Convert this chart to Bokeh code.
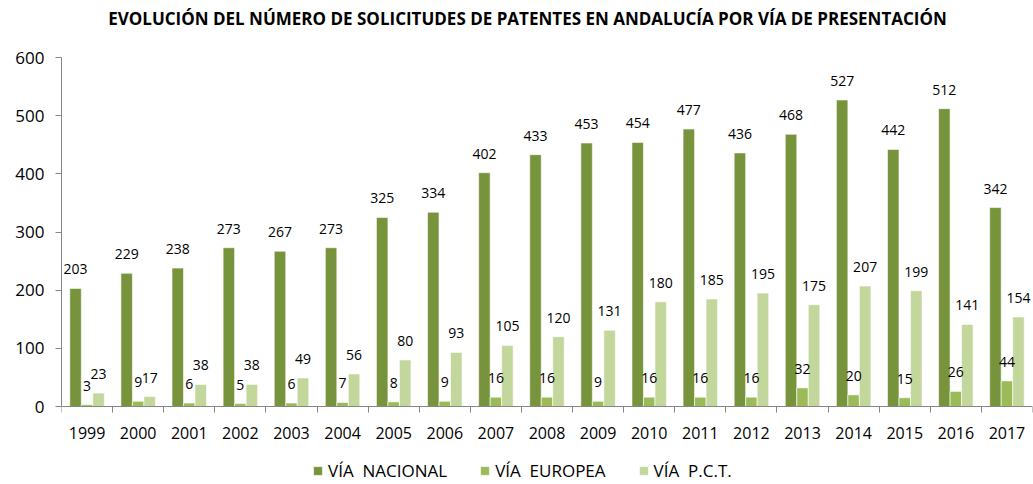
from bokeh.plotting import figure
from bokeh.models import ColumnDataSource, Range1d, FixedTicker, Legend, LegendItem, Label
from bokeh.transform import dodge
from bokeh.core.properties import value
from bokeh.embed import file_html
from bokeh.resources import INLINE

years = ["1999", "2000", "2001", "2002", "2003", "2004", "2005", "2006", "2007", "2008",
         "2009", "2010", "2011", "2012", "2013", "2014", "2015", "2016", "2017"]
nacional = [203, 229, 238, 273, 267, 273, 325, 334, 402, 433, 453, 454, 477, 436, 468, 527, 442, 512, 342]
europea = [3, 9, 6, 5, 6, 7, 8, 9, 16, 16, 9, 16, 16, 16, 32, 20, 15, 26, 44]
pct = [23, 17, 38, 38, 49, 56, 80, 93, 105, 120, 131, 180, 185, 195, 175, 207, 199, 141, 154]
series_names = ["VÍA  NACIONAL", "VÍA  EUROPEA", "VÍA  P.C.T."]
y_ticks = [0, 100, 200, 300, 400, 500, 600]
title_text = "EVOLUCIÓN DEL NÚMERO DE SOLICITUDES DE PATENTES EN ANDALUCÍA POR VÍA DE PRESENTACIÓN"

colors = ["#77933C", "#9BBB59", "#C3D69B"]
FONT = "Open Sans"

W, H = 1033, 484
LEFT, RIGHT = 61, 1032          # plot area x extent (px)
Y600, Y0 = 57, 406              # pixel rows of the 600 and 0 values
px_per_unit = (Y0 - Y600) / 600.0
y_top = 600 + Y600 / px_per_unit
y_bottom = -(H - Y0) / px_per_unit

xs = list(range(len(years)))
src = ColumnDataSource(dict(
    x=xs, nacional=nacional, europea=europea, pct=pct,
    nl=[str(v) for v in nacional], el=[str(v) for v in europea], pl=[str(v) for v in pct],
))

p = figure(width=W, height=H, x_range=Range1d(-0.5, len(years) - 0.5),
           y_range=Range1d(y_bottom, y_top), output_backend="svg", toolbar_location=None,
           title=None, min_border_left=LEFT, min_border_right=W - RIGHT,
           min_border_top=0, min_border_bottom=0)

p.xgrid.visible = False
p.ygrid.visible = False
p.outline_line_color = None
p.background_fill_color = "white"
p.border_fill_color = "white"

# chart title (centered at x=527px, y=18px)
x_per_px = len(years) / (RIGHT - LEFT)
p.add_layout(Label(x=-0.5 + (527 - LEFT) * x_per_px, y=600 + (Y600 - 18) / px_per_unit,
                   text=title_text, text_align="center", text_baseline="middle",
                   text_font=FONT, text_font_style="bold", text_font_size="17px",
                   text_color="#000000"))

bw = 0.225
fields = ["nacional", "europea", "pct"]
labels = ["nl", "el", "pl"]
offs = [-bw, 0.0, bw]
renderers = []
for f, off, c in zip(fields, offs, colors):
    r = p.vbar(x=dodge("x", off, range=p.x_range), top=f, width=bw, bottom=0, source=src,
               fill_color=c, line_color="white", line_width=0.6)
    renderers.append(r)
for f, lab, off in zip(fields, labels, offs):
    p.text(x=dodge("x", off, range=p.x_range), y=f, text=lab, source=src,
           text_font=value(FONT), text_font_size="14px", text_color="#000000",
           text_align="center", text_baseline="middle", y_offset=-19)

xa = p.xaxis[0]
xa.fixed_location = 0
xa.ticker = FixedTicker(ticks=xs, minor_ticks=[i - 0.5 for i in range(len(years) + 1)])
xa.major_label_overrides = {i: y for i, y in zip(xs, years)}
xa.major_tick_out = 0
xa.major_tick_in = 0
xa.minor_tick_out = 6
xa.minor_tick_in = 0
xa.minor_tick_line_color = "#868686"
xa.axis_line_color = "#868686"
xa.major_label_text_font = FONT
xa.major_label_text_font_size = "16px"
xa.major_label_text_color = "#000000"
xa.major_label_standoff = 14

ya = p.yaxis[0]
ya.bounds = (0, 600)
ya.ticker = FixedTicker(ticks=y_ticks, minor_ticks=[])
ya.major_tick_out = 6
ya.major_tick_in = 0
ya.major_tick_line_color = "#868686"
ya.axis_line_color = "#868686"
ya.minor_tick_line_color = None
ya.major_label_text_font = FONT
ya.major_label_text_font_size = "17px"
ya.major_label_text_color = "#000000"
ya.major_label_standoff = 11

legend = Legend(items=[LegendItem(label=n, renderers=[r]) for n, r in zip(series_names, renderers)],
                orientation="horizontal", location=(312 - LEFT, 2),
                glyph_width=11, glyph_height=11, label_standoff=5, spacing=32,
                label_text_font=FONT, label_text_font_size="17px", label_text_color="#000000",
                border_line_alpha=0, background_fill_alpha=0, padding=0, margin=0)
p.add_layout(legend, "center")

open("out.html", "w").write(file_html(p, INLINE))
